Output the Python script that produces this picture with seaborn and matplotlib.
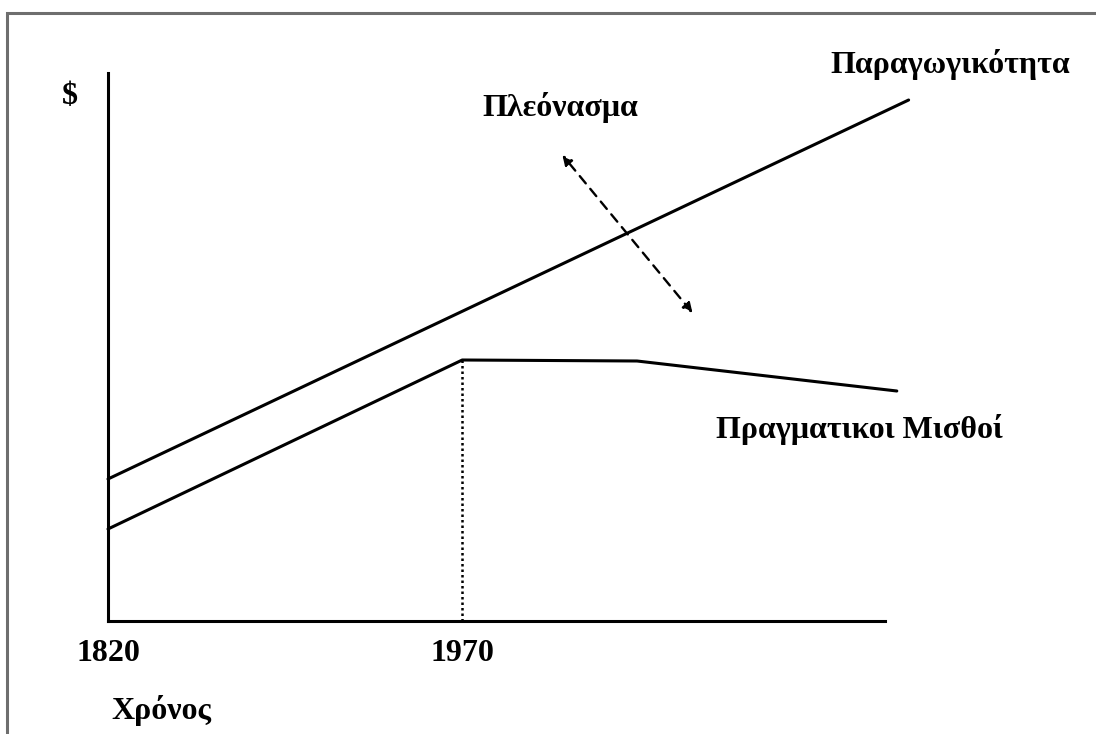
import pandas as pd
import seaborn as sns
import matplotlib.pyplot as plt
from matplotlib.patches import Rectangle

# schematic values (years on x, arbitrary $ units on y)
prod_years = [1820, 2159]
prod_values = [28.4, 104.2]

wage_years = [1820, 1970, 2044, 2154]
wage_values = [18.4, 52.2, 52.0, 46.0]

tick_years = [1820, 1970]
tick_labels = ["1820", "1970"]

W, H = 1096, 734


def main():
    sns.set_theme(style="white")
    plt.rcParams['font.family'] = ['Liberation Serif', 'DejaVu Serif']
    plt.rcParams['font.weight'] = 'bold'
    plt.rcParams['text.color'] = 'black'
    plt.rcParams['xtick.color'] = 'black'

    fig = plt.figure(figsize=(W / 100, H / 100), dpi=100)
    fig.patch.set_facecolor('white')

    # axes placed so that the spines sit where the reference axes sit
    left, right, top, bottom = 108, 885, 73, 621
    ax = fig.add_axes([left / W, 1 - bottom / H, (right - left) / W, (bottom - top) / H])
    ax.set_facecolor('white')

    prod = pd.DataFrame({'year': prod_years, 'value': prod_values})
    wages = pd.DataFrame({'year': wage_years, 'value': wage_values})

    sns.lineplot(x='year', y='value', data=prod, ax=ax, color='black', lw=2.2,
                 clip_on=False, sort=False)
    sns.lineplot(x='year', y='value', data=wages, ax=ax, color='black', lw=2.2,
                 clip_on=False, sort=False)

    # dotted drop line at 1970
    ax.plot([1970, 1970], [0, wage_values[1]], color='black', lw=1.8, ls=(0, (1, 1.2)))

    ax.set_xlim(1820, 2149)
    ax.set_ylim(0, 109.6)

    for s in ['top', 'right']:
        ax.spines[s].set_visible(False)
    for s in ['left', 'bottom']:
        ax.spines[s].set_color('black')
        ax.spines[s].set_linewidth(2.2)

    ax.set_xticks(tick_years)
    ax.set_xticklabels(tick_labels, fontsize=23, fontweight='bold', color='black')
    ax.tick_params(axis='x', length=0, pad=13)
    ax.set_yticks([])
    ax.set_xlabel('')
    ax.set_ylabel('')

    # surplus arrow
    ax.annotate('', xy=(2012.4, 93.2), xytext=(2067.5, 61.6),
                arrowprops=dict(arrowstyle='<|-|>', color='black', lw=1.7,
                                ls=(0, (4, 3)), mutation_scale=14,
                                shrinkA=0, shrinkB=0))

    txt = dict(fontsize=23, fontweight='bold', ha='center', va='center',
               color='black', clip_on=False)
    ax.text(2176.8, 111.2, 'Παραγωγικότητα', **txt)
    ax.text(2011.5, 102.6, 'Πλεόνασμα', **txt)
    ax.text(2138.2, 38.2, 'Πραγματικοι Μισθοί', **txt)
    ax.text(1803.9, 104.8, '$', **txt)
    ax.text(1842.5, -17.8, 'Χρόνος', **txt)

    # grey frame around the picture (cropped at right and bottom)
    fig.add_artist(Rectangle((7 / W, -0.1), 2, 1 - 13 / H + 0.1, transform=fig.transFigure,
                             fill=False, edgecolor='#6e6e6e', lw=2.2))

    plt.savefig('out.png', dpi=100)


if __name__ == "__main__":
    main()
